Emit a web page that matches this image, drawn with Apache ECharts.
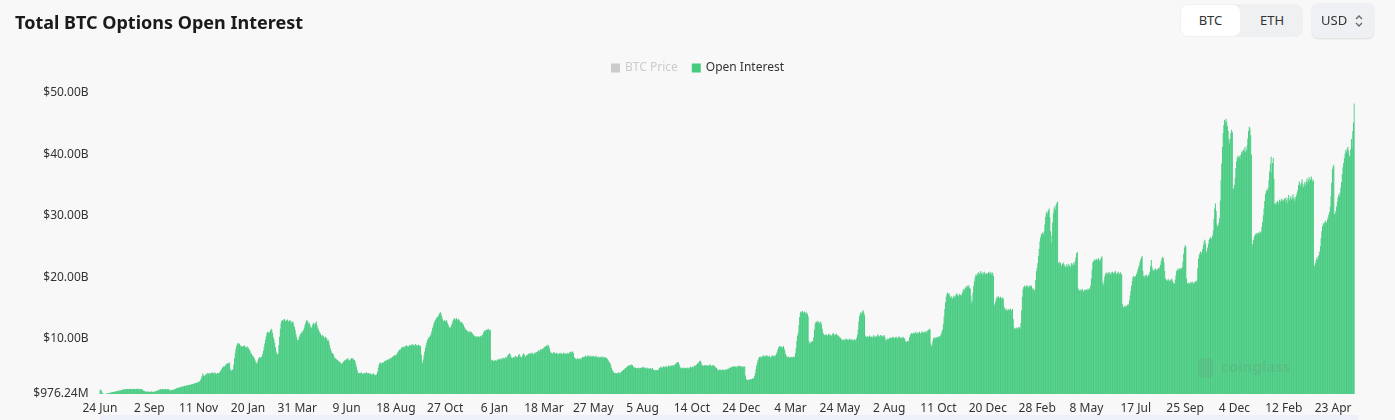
<!DOCTYPE html>
<html>
<head>
<meta charset="utf-8">
<script src="https://cdn.jsdelivr.net/npm/echarts@6/dist/echarts.min.js"></script>
<style>
html,body{margin:0;padding:0;background:#f8f8f8;width:1395px;height:420px;overflow:hidden;font-family:'Noto Sans',sans-serif;}
#chart{position:absolute;left:0;top:0;width:1395px;height:420px;z-index:1;}
.seg{position:absolute;left:1180px;top:4px;width:123px;height:33px;background:#eff0f2;border-radius:8px;z-index:2;}
.seg .b{position:absolute;top:1px;height:31px;line-height:31px;text-align:center;font-size:13px;color:#333;}
.seg .on{left:1px;width:59px;background:#fff;border-radius:7px;}
.seg .off{left:62px;width:60px;}
.usd{position:absolute;left:1312px;top:3px;width:62px;height:35px;background:#eef0f4;border-radius:6px;box-shadow:0 1px 2px rgba(0,0,0,0.12);z-index:2;}
.usd span{position:absolute;left:9px;top:0;line-height:35px;font-size:13px;color:#333;}
.usd svg{position:absolute;left:42px;top:11px;}
.band{position:absolute;left:100px;top:415px;width:1258px;height:5px;background:#eef0f9;z-index:2;}
</style>
</head>
<body>
<div id="chart"></div>
<div class="seg"><div class="b on">BTC</div><div class="b off">ETH</div></div>
<div class="usd"><span>USD</span><svg width="10" height="14" viewBox="0 0 10 14"><path d="M2 5 L5 2 L8 5" fill="none" stroke="#666" stroke-width="1.3"/><path d="M2 9 L5 12 L8 9" fill="none" stroke="#666" stroke-width="1.3"/></svg></div>
<div class="band"></div>
<script>
// ---- data (values in billions USD), one array per 70-day label interval ----
const startDate = '2020-06-24';
const skippedDates = ['2021-12-25','2022-02-14','2022-11-20',
  '2023-03-13','2023-03-14','2023-03-15','2023-03-16','2023-03-17','2023-03-18',
  '2023-03-19','2023-03-20','2023-03-21','2023-03-22','2023-03-23'];

const oi_p00 = [1.6,1.7,1.5,1.2,1.05,1.0,0.97624,0.98,0.99,1.0,
1.05,1.1,1.15,1.15,1.2,1.2,1.25,1.25,1.3,1.3,
1.35,1.35,1.4,1.4,1.45,1.45,1.5,1.5,1.55,1.55,
1.6,1.6,1.65,1.7,1.7,1.75,1.75,1.8,1.75,1.8,
1.8,1.75,1.8,1.85,1.8,1.75,1.8,1.85,1.8,1.8,
1.75,1.8,1.85,1.8,1.8,1.85,1.75,1.8,1.8,1.75,
1.7,1.6,1.5,1.45,1.4,1.4,1.35,1.35,1.4,1.35];
const oi_p01 = [1.35,1.3,1.35,1.4,1.35,1.3,1.35,1.4,1.35,1.4,
1.45,1.5,1.55,1.6,1.65,1.7,1.75,1.7,1.75,1.8,
1.75,1.7,1.75,1.8,1.75,1.7,1.75,1.8,1.7,1.6,
1.55,1.6,1.65,1.6,1.6,1.7,1.75,1.8,1.85,1.9,
1.95,2.0,2.05,2.0,2.1,2.15,2.1,2.2,2.2,2.25,
2.3,2.25,2.3,2.35,2.4,2.35,2.45,2.5,2.45,2.5,
2.55,2.6,2.6,2.65,2.7,2.75,2.7,2.8,2.85,2.9];
const oi_p02 = [2.9,3.0,3.1,3.3,3.6,3.9,4.3,4.0,3.9,4.0,
4.1,4.2,4.3,4.4,4.3,4.2,4.4,4.3,4.4,4.5,
4.4,4.3,4.4,4.5,4.3,4.2,4.3,4.4,4.3,4.4,
4.5,4.7,4.9,5.1,5.3,5.4,5.5,5.4,5.6,5.8,
5.9,6.0,6.0,5.9,6.1,5.0,4.7,4.8,4.9,5.0,
5.8,6.8,7.6,8.3,8.8,9.2,9.0,9.3,9.1,8.9,
8.6,8.8,8.7,8.6,8.8,8.9,8.7,8.6,8.5,8.7];
const oi_p03 = [8.6,8.4,8.2,8.0,7.7,7.5,7.3,7.2,7.0,6.8,
6.5,6.2,6.0,5.9,6.3,6.7,6.9,7.0,6.8,7.0,
7.1,7.5,8.0,8.6,9.2,9.8,10.4,10.9,11.1,11.0,
10.8,11.1,11.3,11.6,11.4,10.9,10.2,9.8,9.3,8.6,
7.9,7.5,7.4,7.6,8.9,10.3,11.6,12.5,12.9,13.0,
12.8,13.1,13.2,12.9,12.8,13.0,13.1,12.9,12.7,12.9,
13.0,12.8,12.6,12.7,12.8,12.3,11.9,11.4,10.8,10.2];
const oi_p04 = [9.8,9.6,9.9,10.3,10.6,10.8,10.9,11.2,11.0,11.4,
11.8,12.2,12.6,12.9,13.0,12.8,12.4,12.6,12.2,11.9,
11.7,11.9,12.3,12.6,12.4,12.1,12.5,12.8,12.2,11.8,
11.5,11.2,11.0,10.8,10.5,10.3,10.6,10.4,10.2,10.0,
10.3,10.1,10.0,9.6,9.8,9.4,8.9,8.4,8.0,7.7,
7.6,7.5,7.2,6.9,6.8,6.7,6.6,6.5,6.4,6.3,
6.2,6.1,6.0,5.9,6.0,6.1,6.3,6.4,6.5,6.6];
const oi_p05 = [6.6,6.7,6.8,6.5,6.4,6.5,6.7,6.8,6.7,6.8,
6.6,6.5,6.3,5.9,5.4,4.9,4.5,4.3,4.4,4.3,
4.4,4.5,4.3,4.2,4.3,4.4,4.3,4.4,4.5,4.4,
4.3,4.4,4.3,4.2,4.3,4.2,4.1,4.2,4.3,4.2,
4.1,4.0,4.1,4.2,4.6,5.2,5.7,6.0,6.1,5.9,
6.0,6.1,6.0,6.2,6.3,6.4,6.3,6.5,6.6,6.5,
6.6,6.7,6.8,6.9,6.8,7.0,7.1,7.2,7.3,7.2];
const oi_p06 = [7.3,7.4,7.6,7.8,8.0,8.2,8.1,8.3,8.5,8.6,
8.7,8.5,8.6,8.8,8.7,8.9,8.8,8.6,8.7,8.9,
9.0,8.8,8.9,9.1,9.0,8.9,8.8,9.0,9.1,8.9,
8.8,8.9,9.0,8.9,8.7,8.8,7.4,6.2,6.0,6.6,
7.3,7.9,8.5,9.0,9.4,9.8,10.0,10.2,10.3,10.5,
10.8,11.2,11.7,12.1,12.5,12.8,13.0,13.2,13.4,13.5,
13.6,13.9,14.1,14.3,14.1,13.7,13.2,12.8,12.9,13.0];
const oi_p07 = [12.8,12.9,13.0,12.6,12.3,12.0,11.8,11.7,11.9,12.2,
12.6,12.9,13.1,13.3,13.2,13.0,13.3,13.1,12.9,13.2,
13.0,12.8,12.6,12.7,12.6,12.4,12.2,11.9,11.7,11.5,
11.4,11.3,11.2,11.0,11.1,11.2,11.0,11.1,10.9,10.8,
10.6,10.5,10.4,10.3,10.4,10.2,10.3,10.4,10.2,10.3,
10.4,10.5,10.3,10.6,10.9,11.1,11.3,11.2,11.4,11.5,
11.4,11.6,11.5,11.3,11.4,6.6,6.4,6.5,6.3,6.4];
const oi_p08 = [6.4,6.5,6.3,6.4,6.6,6.5,6.7,6.6,6.5,6.8,
6.7,6.6,6.9,6.8,6.7,6.9,7.0,6.8,7.1,7.3,
7.4,7.6,7.5,7.2,6.9,6.8,6.9,7.0,6.8,7.1,
7.2,7.0,6.9,7.1,7.3,7.5,7.2,7.0,6.9,7.1,
7.3,7.6,7.4,7.2,7.0,7.2,7.4,7.3,7.5,7.6,
7.4,7.6,7.5,7.7,7.6,7.4,7.5,7.7,7.6,7.8,
7.7,7.9,8.0,8.1,7.9,8.2,8.3,8.1,8.3,8.4];
const oi_p09 = [8.5,8.6,8.7,8.8,8.9,8.7,9.0,8.8,8.4,7.9,
7.6,7.7,7.5,7.6,7.8,7.7,7.6,7.5,7.7,7.6,
7.5,7.4,7.6,7.7,7.5,7.6,7.4,7.5,7.7,7.6,
7.5,7.6,7.4,7.6,7.7,7.5,7.6,7.8,7.9,7.7,
7.8,7.9,7.6,7.0,6.8,6.7,6.6,6.7,6.8,6.6,
6.7,6.8,6.6,6.7,6.9,7.0,6.9,7.1,7.0,7.2,
7.1,7.0,7.2,7.1,7.3,7.0,7.1,7.2,7.0,7.1];
const oi_p10 = [7.2,7.1,7.0,7.1,7.2,7.0,6.9,7.1,7.0,6.9,
7.0,7.1,6.9,7.0,7.1,6.8,6.9,7.0,6.9,6.8,
6.7,6.5,6.3,6.1,6.0,5.6,5.2,4.9,4.7,4.5,
4.4,4.3,4.4,4.3,4.3,4.4,4.5,4.3,4.4,4.5,
4.6,4.7,4.8,4.9,5.0,5.1,5.2,5.3,5.4,5.5,
5.6,5.5,5.7,5.6,5.8,5.7,5.6,5.4,5.3,5.2,
5.3,5.2,5.1,5.2,5.3,5.2,5.1,5.2,5.3,5.2];
const oi_p11 = [5.3,5.4,5.2,5.3,5.1,5.2,5.3,5.1,5.2,5.0,
5.1,5.2,5.0,5.1,5.2,5.0,4.9,4.8,4.9,4.8,
4.9,4.8,4.9,5.0,5.2,5.3,5.4,5.3,5.2,5.4,
5.5,5.3,5.4,5.5,5.4,5.3,5.5,5.6,5.4,5.5,
5.6,5.5,5.7,5.6,5.5,5.7,5.8,5.9,6.0,6.1,
6.2,6.1,5.8,5.4,5.2,5.1,5.3,5.2,5.1,5.2,
5.3,5.2,5.1,5.2,5.3,5.1,5.2,5.3,5.4,5.3];
const oi_p12 = [5.3,5.4,5.3,5.5,5.6,5.5,5.7,5.8,5.9,6.0,
6.2,6.3,6.4,6.2,5.8,5.6,5.5,5.6,5.7,5.6,
5.5,5.7,5.6,5.5,5.6,5.7,5.8,5.6,5.5,5.6,
5.7,5.6,5.5,5.4,5.3,5.2,5.0,4.9,4.8,4.9,
5.0,4.9,4.8,4.9,5.0,4.9,4.8,4.9,5.0,4.9,
5.0,5.1,5.0,5.2,5.3,5.2,5.4,5.3,5.4,5.5,
5.4,5.5,5.4,5.3,5.5,5.4,5.5,5.6,5.4,5.5];
const oi_p13 = [5.4,5.5,5.3,5.4,5.5,5.4,4.0,3.4,3.3,3.2,
3.3,3.2,3.3,3.4,3.3,3.4,3.5,3.4,3.6,3.9,
4.4,5.0,5.6,6.1,6.5,6.8,7.0,7.1,7.0,6.9,
7.1,7.3,7.2,7.0,7.2,7.1,7.3,7.2,7.0,7.1,
7.2,7.0,6.9,7.1,7.2,7.3,7.1,7.2,7.0,7.3,
7.5,7.8,8.2,8.5,8.7,8.8,8.6,8.7,8.5,8.6,
8.8,8.4,8.0,7.5,7.2,7.0,6.9,7.1,7.0,6.9];
const oi_p14 = [6.9,7.0,7.1,6.9,7.0,7.1,7.0,7.6,8.5,9.6,
10.5,11.0,12.2,13.5,14.3,14.4,14.2,14.5,14.3,14.1,
14.4,14.2,13.9,14.3,14.0,13.6,9.6,9.2,9.3,9.5,
9.4,9.6,9.5,10.2,11.5,12.4,12.7,12.8,12.6,12.9,
12.7,12.5,12.6,12.8,12.3,11.6,11.0,10.7,10.6,10.5,
10.7,10.6,10.4,10.6,10.8,10.5,10.7,10.6,10.4,10.6,
10.8,10.9,10.6,10.5,10.7,10.8,10.6,10.4,10.5,10.3];
const oi_p15 = [10.2,10.1,9.9,9.8,9.7,9.8,9.9,9.7,9.8,10.0,
9.9,9.8,9.7,9.9,10.0,9.8,9.7,9.9,9.8,9.6,
9.8,9.9,9.7,9.8,10.1,10.6,11.5,12.8,13.7,14.1,
14.3,14.0,14.4,14.6,14.2,13.8,10.5,10.2,10.3,10.4,
10.2,10.3,10.5,10.4,10.2,10.3,10.1,10.4,10.6,10.3,
10.2,10.4,10.3,10.5,10.7,10.4,10.3,10.5,10.6,10.4,
10.5,10.3,10.4,10.6,10.2,9.8,9.7,9.9,10.0,9.9];
const oi_p16 = [10.0,10.1,10.2,10.0,10.1,10.3,10.2,10.0,10.1,10.2,
10.3,10.1,10.0,10.2,10.4,10.2,10.1,10.0,10.2,10.1,
10.3,10.1,10.0,9.6,9.4,9.5,9.6,9.5,9.7,10.2,
10.6,10.8,10.9,10.7,10.9,11.0,10.8,10.9,11.1,10.8,
10.9,11.0,10.8,11.1,10.9,10.7,11.0,11.2,10.9,11.0,
11.1,10.9,11.2,11.0,11.3,11.1,11.4,11.6,11.5,9.2,
8.7,9.0,9.6,10.0,10.1,10.2,10.0,10.1,10.3,10.2];
const oi_p17 = [10.2,10.4,10.3,10.5,10.8,11.2,11.5,12.4,13.6,14.8,
15.9,16.8,17.3,17.5,17.2,17.4,17.0,16.6,16.9,16.7,
16.5,16.8,17.0,16.7,16.9,17.2,17.4,17.1,16.8,17.0,
17.3,17.1,16.9,17.2,17.5,17.9,18.1,17.8,18.3,18.5,
18.2,18.6,18.4,18.7,18.3,18.1,17.0,15.8,16.2,17.5,
18.6,19.4,20.0,20.4,20.2,20.6,20.3,20.8,20.5,20.7,
21.0,20.6,20.4,20.8,20.5,20.9,20.6,20.4,20.7,20.5];
const oi_p18 = [20.6,20.8,20.5,20.9,20.7,20.4,20.8,20.6,20.2,15.4,
15.6,16.0,16.5,16.8,16.6,16.9,16.7,16.5,16.8,16.6,
16.4,16.7,16.5,15.2,14.8,14.6,14.9,14.7,14.5,14.8,
14.6,14.7,14.9,14.6,14.5,14.8,13.2,11.8,11.6,11.7,
11.5,11.8,11.6,11.7,11.9,11.8,11.6,12.5,14.6,16.8,
18.0,18.4,18.6,18.3,18.5,18.7,18.4,18.6,18.3,18.5,
18.7,18.4,18.6,18.2,17.9,18.1,17.8,18.0,19.5,21.0];
const oi_p19 = [21.5,22.3,23.5,24.6,25.8,26.5,27.0,27.1,27.3,26.9,
27.5,28.6,29.8,30.5,30.7,30.2,30.9,31.2,29.8,27.5,
25.6,26.8,28.9,30.4,31.2,31.5,31.0,31.8,32.1,32.3,
22.4,22.1,22.5,22.3,22.0,21.8,22.2,22.4,22.1,21.9,
21.6,21.8,22.1,21.7,21.9,22.2,21.8,21.6,22.0,22.3,
21.9,22.1,22.4,22.0,22.6,23.2,23.9,24.1,18.2,17.9,
17.8,18.0,17.7,17.9,18.1,17.8,17.6,17.9,18.0,17.8];
const oi_p20 = [18.0,17.8,18.1,17.9,18.2,18.0,18.6,19.8,21.2,22.4,
22.6,22.9,22.5,22.8,23.0,22.7,22.9,23.1,22.8,22.6,
22.9,23.2,23.4,19.0,18.7,19.4,20.1,20.6,20.4,20.8,
20.5,20.7,20.9,20.6,20.4,20.8,20.6,20.9,20.7,20.5,
20.8,21.0,20.6,20.4,20.7,20.9,20.6,20.5,20.8,20.6,
20.4,15.6,15.2,15.0,15.3,15.1,15.4,15.2,15.5,15.3,
15.6,16.2,17.0,17.8,18.6,19.4,20.0,20.2,19.9,20.1];
const oi_p21 = [20.2,20.5,20.8,21.2,21.6,22.0,22.5,22.9,23.2,23.4,
21.0,20.2,20.0,20.3,20.1,20.4,20.2,19.9,20.3,20.5,
20.9,21.8,22.8,21.6,21.2,21.0,21.3,21.1,21.4,21.2,
21.0,21.3,21.5,21.2,21.6,22.0,22.6,23.0,23.3,23.1,
22.4,21.0,19.8,19.5,19.6,19.4,19.7,19.5,19.3,19.6,
19.5,19.8,19.4,19.1,18.9,19.0,19.6,20.3,21.0,21.2,
21.4,21.1,21.3,21.5,21.2,21.4,21.6,22.5,23.8,24.8];
const oi_p22 = [25.2,25.0,19.8,19.0,18.9,19.1,19.0,18.8,19.2,19.0,
19.3,19.1,18.9,19.2,19.0,19.4,19.2,19.6,21.5,23.0,
23.6,23.9,24.2,23.8,24.1,24.6,25.2,25.8,26.1,25.5,
24.0,24.3,24.8,25.4,26.0,26.3,26.5,26.2,26.4,26.8,
27.6,29.5,31.2,32.0,30.8,28.6,28.2,28.5,28.9,29.6,
32.5,35.8,38.5,41.2,43.5,44.8,45.6,45.2,45.8,45.3,
44.6,43.8,42.5,41.8,42.6,43.5,44.0,43.6,34.2,34.5];
const oi_p23 = [35.0,36.2,37.8,38.9,39.5,39.8,39.4,39.7,39.2,39.9,
40.3,40.6,40.2,40.8,40.5,41.2,40.4,40.7,41.5,42.6,
43.8,44.5,44.2,43.1,40.0,25.0,25.4,26.0,26.5,26.8,
27.0,27.2,26.9,27.1,27.3,27.0,27.4,27.2,27.5,28.2,
29.0,30.1,31.2,32.4,33.5,34.0,34.3,34.1,34.6,35.8,
37.2,38.4,39.6,37.0,38.6,39.4,36.0,32.0,31.8,32.2,
32.0,32.4,31.9,32.3,32.6,32.2,32.5,32.8,32.4,32.6];
const oi_p24 = [32.4,32.8,32.2,33.0,32.6,32.1,32.9,33.4,32.5,32.8,
33.2,32.6,32.9,33.5,32.8,32.4,33.1,32.7,33.3,33.8,
34.2,35.0,35.6,35.2,34.8,35.4,35.9,35.1,34.6,35.2,
35.5,34.9,35.6,36.1,35.3,35.8,36.3,35.6,35.9,36.4,
36.0,35.5,35.8,22.0,21.7,22.3,22.8,23.2,22.9,23.4,
23.6,24.2,25.1,26.4,27.5,28.3,28.8,28.5,28.9,29.2,
28.7,29.0,29.4,29.8,30.2,30.6,31.5,33.2,35.4,37.6];
const oi_p25 = [38.0,38.3,30.2,30.4,30.8,31.5,32.3,33.0,33.5,33.2,
33.8,34.6,35.5,36.8,37.9,38.6,39.4,40.1,40.7,40.3,
40.9,41.2,40.6,39.8,39.6,40.8,42.5,41.0,43.8,45.2,48.3];

const openInterest = [].concat(oi_p00,oi_p01,oi_p02,oi_p03,oi_p04,oi_p05,oi_p06,oi_p07,
  oi_p08,oi_p09,oi_p10,oi_p11,oi_p12,oi_p13,oi_p14,oi_p15,oi_p16,oi_p17,oi_p18,
  oi_p19,oi_p20,oi_p21,oi_p22,oi_p23,oi_p24,oi_p25);
const btcPrice = [];
const yMin = 0.97624, yMax = 50;

// ---- categories: daily dates from startDate, minus days missing from the source ----
const MONTHS = ['Jan','Feb','Mar','Apr','May','Jun','Jul','Aug','Sep','Oct','Nov','Dec'];
const categories = [];
(function(){
  const skip = new Set(skippedDates);
  let t = Date.parse(startDate + 'T00:00:00Z');
  while (categories.length < openInterest.length) {
    const d = new Date(t);
    const iso = d.toISOString().slice(0,10);
    if (!skip.has(iso)) categories.push(d.getUTCDate() + ' ' + MONTHS[d.getUTCMonth()]);
    t += 86400000;
  }
})();

const chart = echarts.init(document.getElementById('chart'), null, {renderer:'canvas'});
const FONT = 'Noto Sans';
chart.setOption({
  backgroundColor: '#f8f8f8',
  animation: false,
  title: {
    text: 'Total BTC Options Open Interest',
    left: 10, top: 10,
    textStyle: {fontFamily: FONT, fontSize: 18, fontWeight: 'bold', color: '#1a1a1a'}
  },
  legend: {
    data: ['BTC Price','Open Interest'],
    selected: {'BTC Price': false},
    left: 'center', top: 57,
    icon: 'rect', itemWidth: 9, itemHeight: 9, itemGap: 14,
    inactiveColor: '#cccccc',
    textStyle: {fontFamily: FONT, fontSize: 12, color: '#333'}
  },
  grid: {left: 99.6, right: 40.4, top: 93, bottom: 26, containLabel: false},
  xAxis: {
    type: 'category',
    data: categories,
    boundaryGap: true,
    axisLine: {show: false},
    axisTick: {show: false},
    splitLine: {show: false},
    axisLabel: {interval: 69, margin: 9, fontFamily: FONT, fontSize: 12, color: '#333', hideOverlap: false}
  },
  yAxis: {
    type: 'value',
    min: yMin, max: yMax, splitNumber: 5,
    axisLine: {show: false},
    axisTick: {show: false},
    splitLine: {show: false},
    axisLabel: {
      margin: 11, fontFamily: FONT, fontSize: 12, color: '#333', padding: [4, 0, 0, 0],
      formatter: function (v) {
        return v < 1 ? '$' + (v * 1000).toFixed(2) + 'M' : '$' + v.toFixed(2) + 'B';
      }
    }
  },
  series: [
    {name: 'BTC Price', type: 'line', data: btcPrice, itemStyle: {color: '#aaaaaa'}, showSymbol: false},
    {name: 'Open Interest', type: 'bar', data: openInterest, barCategoryGap: '0%',
     itemStyle: {color: '#47cb81'}}
  ],
  graphic: [
    {type: 'rect', left: 1198, top: 358, shape: {width: 15, height: 20, r: 4}, style: {fill: 'rgba(120,120,120,0.13)'}, z: 100},
    {type: 'text', left: 1221, top: 360, style: {text: 'coinglass', fill: 'rgba(120,120,120,0.16)', font: 'bold 15px Noto Sans'}, z: 100}
  ]
});
</script>
</body>
</html>
